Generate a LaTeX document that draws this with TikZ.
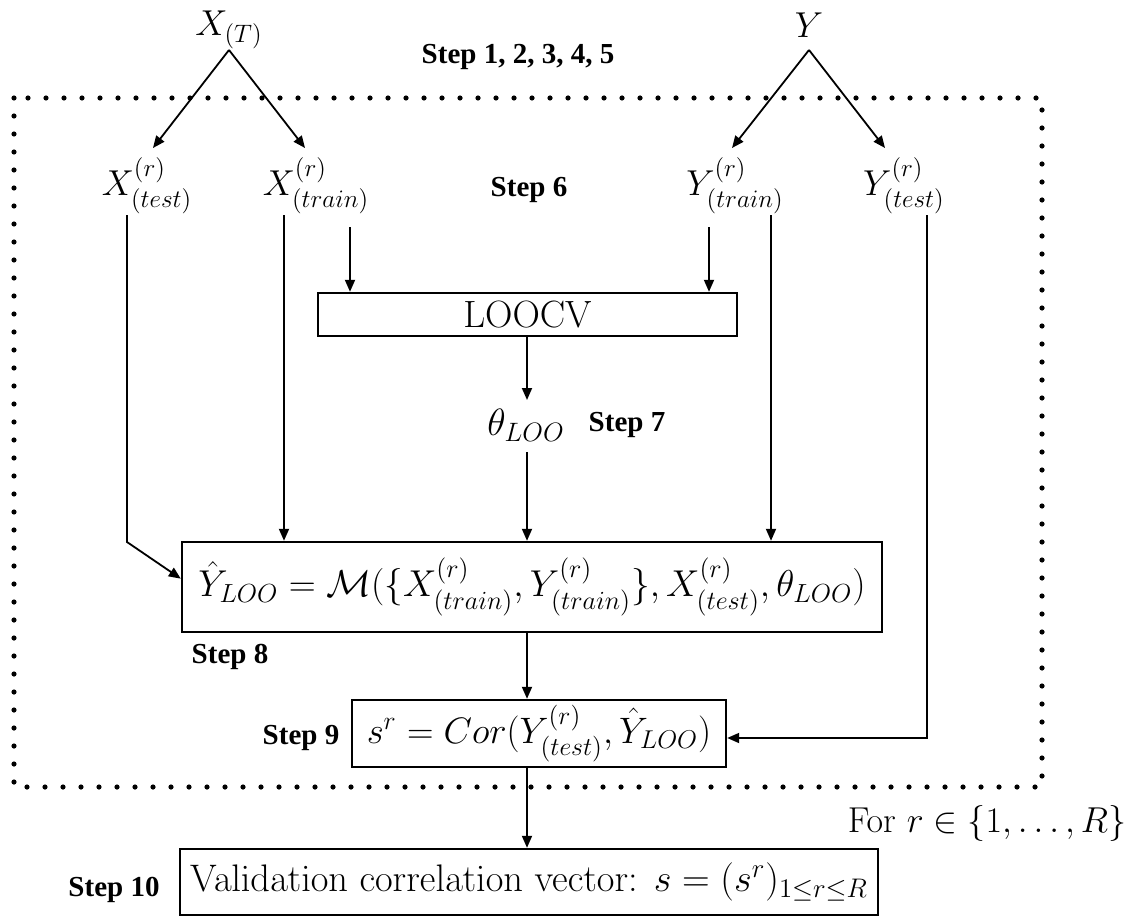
\RequirePackage{fix-cm}
\documentclass[tikz,border=0pt]{standalone}
\usepackage{amsmath,amssymb}
\usepackage{fontspec}
\newfontfamily\stepfont{Liberation Serif}
\usetikzlibrary{arrows.meta,calc}
\newcommand\fsz[1]{\fontsize{#1}{#1}\selectfont}
\newcommand\cmtext{\fontencoding{OT1}\fontfamily{cmr}\selectfont}
\begin{document}
\begin{tikzpicture}[x=0.5pt,y=-0.5pt,
  arr/.style={-{Triangle[length=6pt,width=5pt]},line width=0.9pt},
  box/.style={draw,line width=1.2pt,inner sep=0pt,anchor=center},
  lab/.style={inner sep=2pt,font=\cmtext\fsz{18}},
  steplab/.style={inner sep=0pt,font=\stepfont\bfseries\fsz{14.5}},
  dotbox/.style={line width=2.6pt,line cap=round,dash pattern=on 0pt off 9pt}]
\useasboundingbox (0,0) rectangle (1141,920);
% dotted frame
\draw[dotbox] (14,98) rectangle (1042,787);
% top sources
\node[lab] (XT) at (229,30) {$X_{(T)}$};
\node[lab] (Y) at (809,25) {$Y$};
\node[steplab] (s15) at (518,57) {Step 1, 2, 3, 4, 5};
% split nodes
\node[lab] (Xte) at (147,186) {$X^{(r)}_{(test)}$};
\node[lab] (Xtr) at (316,186) {$X^{(r)}_{(train)}$};
\node[lab] (Ytr) at (735,186) {$Y^{(r)}_{(train)}$};
\node[lab] (Yte) at (904,186) {$Y^{(r)}_{(test)}$};
\node[steplab] (s6) at (529,190) {Step 6};
% LOOCV
\node[box,minimum width=209.5pt,minimum height=21.5pt,font=\cmtext\fsz{19}] (loocv) at (527.5,314.5) {LOOCV};
\node[lab,font=\cmtext\fsz{19}] (theta) at (526,425) {$\theta_{LOO}$};
\node[steplab] (s7) at (627,425) {Step 7};
% model box
\node[box,minimum width=350pt,minimum height=45pt,font=\cmtext\fsz{18.7}] (big) at (532,587)
  {$\hat{Y}_{LOO}=\mathcal{M}(\{X^{(r)}_{(train)},Y^{(r)}_{(train)}\},X^{(r)}_{(test)},\theta_{LOO})$};
\node[steplab] (s8) at (230,657) {Step 8};
% correlation box
\node[box,minimum width=187pt,minimum height=33.5pt,font=\cmtext\fsz{18.4}] (sbox) at (539,733.5)
  {$s^r=Cor(Y^{(r)}_{(test)},\hat{Y}_{LOO})$};
\node[steplab] (s9) at (301,738) {Step 9};
\node[lab] (forr) at (987,823) {For $r\in\{1,\ldots,R\}$};
% final box
\node[box,minimum width=349pt,minimum height=33pt,font=\cmtext\fsz{19.2}] (fin) at (529,882)
  {Validation correlation vector: $s=(s^r)_{1\leq r\leq R}$};
\node[steplab] (s10) at (114,890) {Step 10};
% helper coordinates
\coordinate (c1) at (127,542);
\coordinate (c2) at (284,0);
\coordinate (c3) at (350,227);
\coordinate (c4) at (709,227);
\coordinate (c5) at (771,0);
\coordinate (c6) at (527,0);
\coordinate (c7) at (927,0);
\coordinate (XTa) at (229,50);
\coordinate (Ya) at (809,50);
\coordinate (tXte) at (153,148);
\coordinate (tXtr) at (305,148);
\coordinate (tYtr) at (732,148);
\coordinate (tYte) at (885,148);
% connectors
\draw[arr] (XTa) -- (tXte);
\draw[arr] (XTa) -- (tXtr);
\draw[arr] (Ya) -- (tYtr);
\draw[arr] (Ya) -- (tYte);
\draw[arr] (127,215) -- (c1) -- ($(big.north west)!0.41!(big.south west)$);
\draw[arr] (284,215) -- (big.north -| c2);
\draw[arr] (c3) -- (loocv.north -| c3);
\draw[arr] (c4) -- (loocv.north -| c4);
\draw[arr] (771,215) -- (big.north -| c5);
\draw[arr] (loocv.south -| c6) -- (527,400);
\draw[arr] (527,452) -- (big.north -| c6);
\draw[arr] (big.south -| c6) -- (sbox.north -| c6);
\draw[arr] (927,215) -- (c7 |- 0,738) -- (sbox.east |- 0,738);
\draw[arr] (sbox.south -| c6) -- (fin.north -| c6);
\end{tikzpicture}
\end{document}
